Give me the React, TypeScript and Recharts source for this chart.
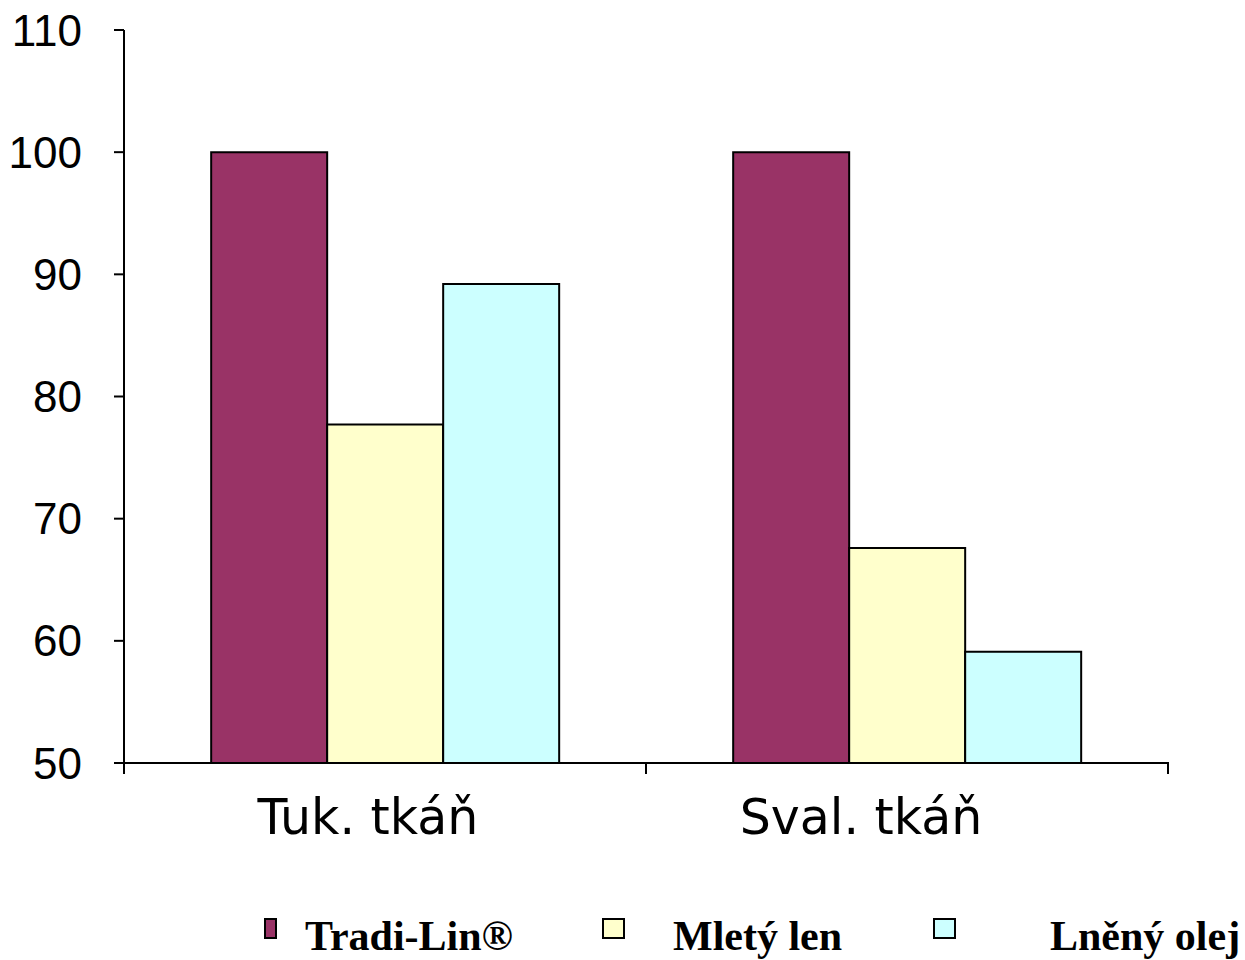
import { Bar, BarChart, Legend, XAxis, YAxis } from 'recharts';

document.body.style.margin = '0';

const tissues = ['Tuk. tkáň', 'Sval. tkáň'];
const tradiLin = [100, 100];
const mletyLen = [77.7, 67.6];
const lnenyOlej = [89.2, 59.1];
const yTicks = [50, 60, 70, 80, 90, 100, 110];

const seriesNames = ['Tradi-Lin®', 'Mletý len', 'Lněný olej'];
const seriesColors = ['#993366', '#FFFFCC', '#CCFFFF'];

const data = tissues.map((t, i) => ({
  tissue: t,
  tradi: tradiLin[i],
  mlety: mletyLen[i],
  lneny: lnenyOlej[i],
}));

// labels sit a bit left of the band centre in the original
const labelShift = [-17, -46];

// tick marks go on the band edges, not the centres
const CategoryTick = ({ x, y, payload, index }: any) => {
  const half = payload.offset ?? 0;
  const last = index === tissues.length - 1;
  return (
    <g>
      <line x1={x - half} x2={x - half} y1={y - 1} y2={y + 11} stroke='#000' strokeWidth={2} />
      {last && <line x1={x + half} x2={x + half} y1={y - 1} y2={y + 11} stroke='#000' strokeWidth={2} />}
      <text
        x={x + (labelShift[index] ?? 0)}
        y={y + 36}
        dy='0.71em'
        textAnchor='middle'
        fontFamily='DejaVu Sans, Verdana, sans-serif'
        fontSize={49}
        fill='#000'
      >
        {payload.value}
      </text>
    </g>
  );
};

// legend spots
const legendMarkX = [264, 602, 933];
const legendMarkW = [9, 19, 19];
const legendTextX = [305, 673, 1050];

const LegendBox = () => (
  <div style={{ position: 'relative', height: 60, width: 1245 }}>
    {seriesNames.map((name, i) => (
      <div key={name}>
        <div
          style={{
            position: 'absolute',
            left: legendMarkX[i],
            top: 18,
            width: legendMarkW[i],
            height: 17,
            background: seriesColors[i],
            border: '2px solid #000',
          }}
        />
        <span
          style={{
            position: 'absolute',
            left: legendTextX[i],
            top: 15,
            fontFamily: '"Liberation Serif", "Times New Roman", serif',
            fontWeight: 'bold',
            fontSize: 42,
            lineHeight: '42px',
            whiteSpace: 'nowrap',
            color: '#000',
          }}
        >
          {name}
        </span>
      </div>
    ))}
  </div>
);

export default function App() {
  return (
    <BarChart
      width={1245}
      height={960}
      data={data}
      margin={{ top: 30, right: 77, bottom: 0, left: 0 }}
      barCategoryGap='16.7%'
      barGap={0}
    >
      <XAxis
        dataKey='tissue'
        tickLine={false}
        tickSize={0}
        tickMargin={0}
        axisLine={{ stroke: '#000', strokeWidth: 2 }}
        tick={<CategoryTick />}
        height={137}
        interval={0}
      />
      <YAxis
        domain={[50, 110]}
        ticks={yTicks}
        width={124}
        tickSize={10}
        tickMargin={32}
        axisLine={{ stroke: '#000', strokeWidth: 2 }}
        tickLine={{ stroke: '#000', strokeWidth: 2 }}
        tick={{ fill: '#000', fontSize: 44, fontFamily: 'Liberation Sans, Arial, sans-serif' }}
        allowDataOverflow
      />
      <Legend
        verticalAlign='bottom'
        height={60}
        content={<LegendBox />}
        wrapperStyle={{ left: 0, width: 1245 }}
      />
      <Bar dataKey='tradi' name={seriesNames[0]} fill={seriesColors[0]} stroke='#000' strokeWidth={2} isAnimationActive={false} />
      <Bar dataKey='mlety' name={seriesNames[1]} fill={seriesColors[1]} stroke='#000' strokeWidth={2} isAnimationActive={false} />
      <Bar dataKey='lneny' name={seriesNames[2]} fill={seriesColors[2]} stroke='#000' strokeWidth={2} isAnimationActive={false} />
    </BarChart>
  );
}
